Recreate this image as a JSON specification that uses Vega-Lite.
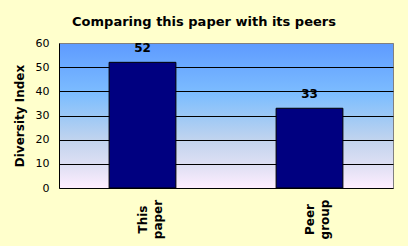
{
  "$schema": "https://vega.github.io/schema/vega-lite/v6.json",
  "autosize": "none",
  "width": 334,
  "height": 145,
  "padding": {"left": 59, "top": 43, "right": 15, "bottom": 58},
  "background": "#FFFFCC",
  "title": {
    "text": "Comparing this paper with its peers",
    "font": "DejaVu Sans",
    "fontSize": 13,
    "fontWeight": "bold",
    "color": "#000000",
    "anchor": "middle",
    "dx": -22,
    "offset": 8
  },
  "data": {
    "values": [
      {"group": "This paper", "value": 52},
      {"group": "Peer group", "value": 33}
    ]
  },
  "encoding": {
    "x": {
      "field": "group",
      "type": "nominal",
      "sort": null,
      "scale": {"paddingInner": 0.6, "paddingOuter": 0.3},
      "axis": {
        "title": null,
        "labelAngle": -90,
        "labelAlign": "center",
        "labelBaseline": "middle",
        "labelPadding": 31,
        "labelExpr": "split(datum.label, ' ')",
        "labelFont": "DejaVu Sans",
        "labelFontSize": 12,
        "labelFontWeight": "bold",
        "labelLineHeight": 15,
        "labelColor": "#000000",
        "ticks": false,
        "domainColor": "#000000",
        "grid": false
      }
    },
    "y": {
      "field": "value",
      "type": "quantitative",
      "scale": {"domain": [0, 60]},
      "axis": {
        "title": "Diversity Index",
        "titleFont": "DejaVu Sans",
        "titleFontSize": 12,
        "titleFontWeight": "bold",
        "titleColor": "#000000",
        "titlePadding": 9,
        "values": [0, 10, 20, 30, 40, 50, 60],
        "labelFont": "DejaVu Sans",
        "labelFontSize": 11,
        "labelColor": "#000000",
        "labelPadding": 10,
        "ticks": false,
        "domainColor": "#000000",
        "grid": true,
        "gridColor": {"condition": {"test": "datum.value == 60 || datum.value == 0", "value": "#808080"}, "value": "#000000"},
        "gridOpacity": 1
      }
    }
  },
  "layer": [
    {
      "mark": {"type": "bar", "fill": "#000080", "stroke": "#000000", "strokeWidth": 1}
    },
    {
      "mark": {"type": "text", "baseline": "bottom", "dy": -7, "font": "DejaVu Sans", "fontSize": 12, "fontWeight": "bold", "color": "#000000"},
      "encoding": {"text": {"field": "value", "type": "quantitative"}}
    }
  ],
  "config": {
    "view": {
      "stroke": "#808080",
      "fill": {
        "gradient": "linear",
        "x1": 0, "y1": 0, "x2": 0, "y2": 1,
        "stops": [
          {"offset": 0, "color": "#5E9BFF"},
          {"offset": 0.35, "color": "#7DBDFF"},
          {"offset": 0.5, "color": "#9CC8F6"},
          {"offset": 0.67, "color": "#C2D4EE"},
          {"offset": 0.85, "color": "#E0E0F4"},
          {"offset": 1, "color": "#FFEEFF"}
        ]
      }
    }
  }
}
